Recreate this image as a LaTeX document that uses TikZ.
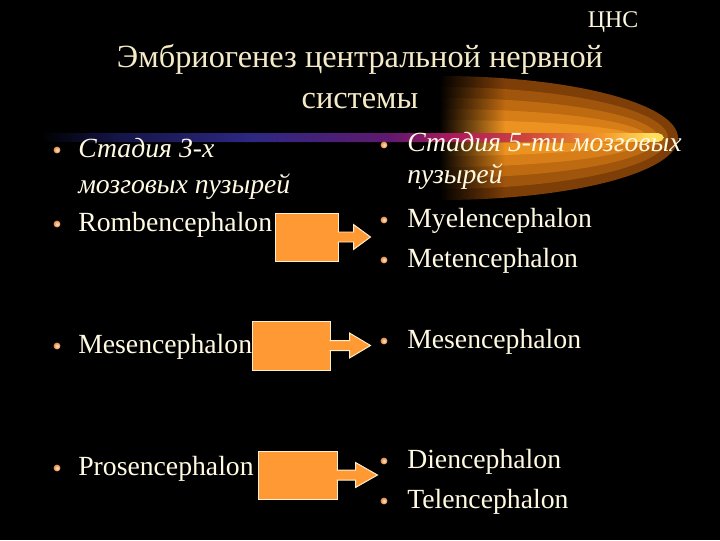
\documentclass[tikz,border=0pt]{standalone}
\usepackage{fontspec}
\setmainfont{Liberation Serif}
\usetikzlibrary{positioning,fadings}

\definecolor{slidetext}{RGB}{255,250,225}
\definecolor{titletext}{RGB}{245,235,200}
\definecolor{arroworange}{RGB}{255,153,51}
\definecolor{arrowedge}{RGB}{255,238,205}
\definecolor{dotouter}{RGB}{230,140,70}
\definecolor{dotinner}{RGB}{255,228,195}
% glow bands, dark to bright
\definecolor{glowA}{RGB}{125,62,8}
\definecolor{glowB}{RGB}{160,85,12}
\definecolor{glowC}{RGB}{190,106,17}
\definecolor{glowD}{RGB}{215,126,24}
\definecolor{glowE}{RGB}{236,146,32}
% streak colours
\definecolor{streakA}{RGB}{20,20,70}
\definecolor{streakB}{RGB}{45,40,130}
\definecolor{streakC}{RGB}{95,25,110}
\definecolor{streakD}{RGB}{170,25,95}
\definecolor{streakE}{RGB}{205,70,60}
\definecolor{streakF}{RGB}{242,150,45}
\definecolor{streakG}{RGB}{255,222,95}

\tikzfading[name=edgefade, left color=transparent!0, right color=transparent!100]
\pgfdeclarehorizontalshading{streak}{100bp}{color(0bp)=(black); color(25bp)=(black);
  color(31bp)=(streakA); color(42bp)=(streakB); color(53bp)=(streakC); color(58bp)=(streakD);
  color(64bp)=(streakE); color(70bp)=(streakF); color(74bp)=(streakG); color(100bp)=(streakG)}

\begin{document}
\begin{tikzpicture}[
  x=0.025cm, y=-0.025cm,
  txt/.style={text=slidetext, font=\fontsize{19.7}{25.6}\selectfont, anchor=base west, inner sep=0pt, align=left},
  itxt/.style={txt, font=\fontsize{19.7}{25.6}\selectfont\itshape},
  dot/.style={circle, inner sep=0pt, minimum size=0.17cm, inner color=dotinner, outer color=dotouter},
  orangebox/.style={rectangle, fill=arroworange, draw=arrowedge, line width=0.7pt, inner sep=0pt},
  headstyle/.style={fill=arroworange, draw=arrowedge, line width=0.7pt, line join=miter},
]
\fill[black] (0,0) rectangle (720,540);
\useasboundingbox (0,0) rectangle (720,540);

% glow in the upper right
\begin{scope}
  \clip (440,0) rectangle (720,260);
  \fill[glowA] (440,138) ellipse [x radius=238, y radius=62];
  \fill[glowB] (440,138) ellipse [x radius=228, y radius=51];
  \fill[glowC] (440,138) ellipse [x radius=218, y radius=40];
  \fill[glowD] (440,138) ellipse [x radius=208, y radius=29];
  \fill[glowE] (440,138) ellipse [x radius=198, y radius=18];
\end{scope}
\fill[black, path fading=edgefade] (439,70) rectangle (505,210);
\fill[shading=streak, rounded corners=4] (40,133) rectangle (664,142);

% headings
\node[text=slidetext, font=\fontsize{17}{20}\selectfont, anchor=base, inner sep=0pt] (cns) at (613,27) {ЦНС};
\node[text=titletext, font=\fontsize{23}{28.5}\selectfont, anchor=base, align=center, inner sep=0pt] (title) at (360,108)
  {Эмбриогенез центральной нервной\\системы};

% left column
\node[itxt] (lt1) at (78,193) {Стадия 3-х\\мозговых пузырей};
\node[txt] (lt2) at (78,231) {Rombencephalon};
\node[txt] (lt3) at (78,353) {Mesencephalon};
\node[txt] (lt4) at (78,475) {Prosencephalon};

% right column
\node[itxt, font=\fontsize{19.7}{22.5}\selectfont\itshape] (rt1) at (407,183) {Стадия 5-ти мозговых\\пузырей};
\node[txt] (rt2) at (407,227) {Myelencephalon};
\node[txt] (rt3) at (407,267) {Metencephalon};
\node[txt] (rt4) at (407,348) {Mesencephalon};
\node[txt] (rt5) at (407,468) {Diencephalon};
\node[txt] (rt6) at (407,508) {Telencephalon};

\node[dot] at ([shift={(-21,-43)}]lt1.base west) {};
\foreach \t in {lt2,lt3,lt4}
  \node[dot] at ([shift={(-21,-7)}]\t.base west) {};
\node[dot] at ([shift={(-23,-38)}]rt1.base west) {};
\foreach \t in {rt2,rt3,rt4,rt5,rt6}
  \node[dot] at ([shift={(-23,-7)}]\t.base west) {};

% block arrows
\node[orangebox, minimum width=1.575cm, minimum height=1.2cm] (box1) at (306.5,237) {};
\node[orangebox, minimum width=1.95cm, minimum height=1.225cm] (box2) at (291,345.5) {};
\node[orangebox, minimum width=1.975cm, minimum height=1.2cm] (box3) at (297.5,475) {};

\foreach \b/\s/\h in {box1/15/17, box2/19/21, box3/18/22}
  \filldraw[headstyle] (\b.east) ++(-1,-5) -- ++({\s+1},0) -- ++(0,-7.5) -- ++(\h,12.5)
    -- ++(-\h,12.5) -- ++(0,-7.5) -- ++({-\s-1},0);
\end{tikzpicture}
\end{document}
